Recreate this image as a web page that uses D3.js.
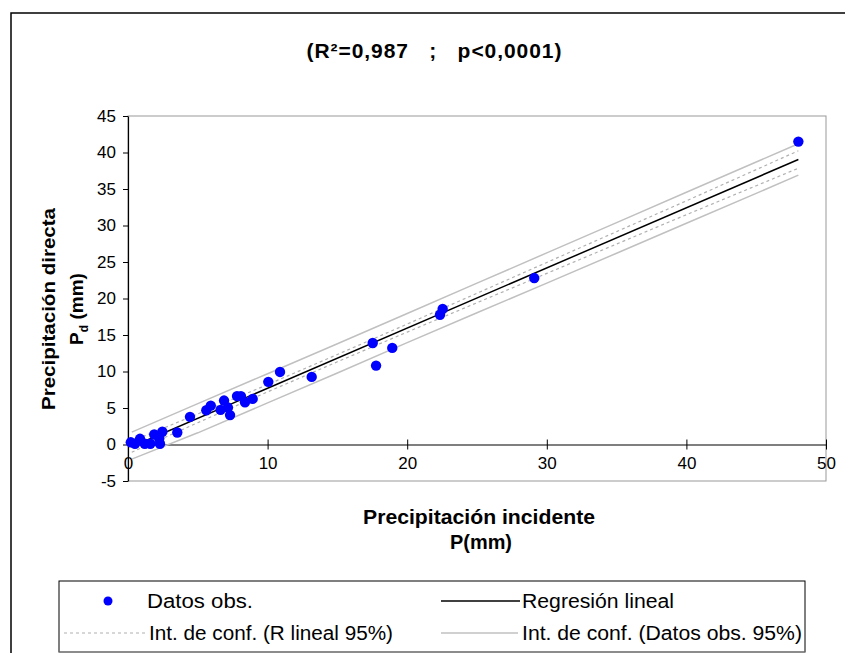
<!DOCTYPE html>
<html>
<head>
<meta charset="utf-8">
<script src="https://cdn.jsdelivr.net/npm/d3@7"></script>
<style>
  body { margin: 0; background: #fff; }
  text { font-family: "Liberation Sans", Arial, sans-serif; }
</style>
</head>
<body>
<div id="chart"></div>
<script>
// observed data (P incident, Pd direct)
const obsX = [0.2, 0.5, 0.86, 1.2, 1.6, 1.88, 2.24, 2.29, 2.46, 3.53, 4.44, 5.61, 5.93, 6.63, 6.88, 7.16, 7.31,
  7.81, 8.09, 8.38, 8.93, 10.05, 10.89, 13.16, 17.53, 17.77, 18.93, 22.35, 22.54, 29.1, 48.02];
const obsY = [0.3, 0.1, 0.78, 0.1, 0.1, 1.37, 0.82, 0.1, 1.74, 1.64, 3.79, 4.69, 5.33, 4.75, 6.02, 5.06, 4.03,
  6.63, 6.63, 5.79, 6.25, 8.58, 9.94, 9.26, 13.91, 10.81, 13.23, 17.78, 18.56, 22.8, 41.49];

// regression line end points
const regX = [0.27, 48.02];
const regY = [-0.31, 39.04];

// band samples
const bandX = [0.27, 5, 10, 15, 20, 25, 30, 35, 40, 45, 48.02];
const confUpper = [0.44, 4.19, 8.21, 12.33, 16.5, 20.72, 24.94, 29.16, 33.38, 37.65, 40.24];
const confLower = [-1.06, 2.99, 7.21, 11.33, 15.4, 19.42, 23.44, 27.46, 31.48, 35.45, 37.84];
const predUpper = [1.7, 5.6, 9.7, 13.8, 17.95, 22.1, 26.25, 30.4, 34.55, 38.7, 41.2];
const predLower = [-2.0, 1.6, 5.7, 9.8, 13.95, 18.05, 22.1, 26.2, 30.3, 34.4, 36.9];

const xTicks = [0, 10, 20, 30, 40, 50];
const yTicks = [-5, 0, 5, 10, 15, 20, 25, 30, 35, 40, 45];

const W = 845, H = 653;
const plot = {left: 128, right: 826, top: 116, bottom: 481};

const svg = d3.select('#chart').append('svg')
  .attr('width', W)
  .attr('height', H);

// outer chart frame
svg.append('path')
  .attr('d', `M11,${H} V13 H${W}`)
  .attr('fill', 'none')
  .attr('stroke', '#000')
  .attr('stroke-width', 1.5);

const x = d3.scaleLinear().domain([0, 50]).range([plot.left, plot.right]);
const y = d3.scaleLinear().domain([-5, 45]).range([plot.bottom, plot.top]);

// plot area border
svg.append('rect')
  .attr('x', plot.left).attr('y', plot.top)
  .attr('width', plot.right - plot.left).attr('height', plot.bottom - plot.top)
  .attr('fill', 'none').attr('stroke', '#999').attr('stroke-width', 1);

// y axis
const yAxis = svg.append('g')
  .attr('transform', `translate(${plot.left},0)`)
  .call(d3.axisLeft(y).tickValues(yTicks).tickSize(5).tickSizeOuter(0).tickFormat(d => String(d)));
yAxis.select('.domain').attr('stroke', '#000').attr('stroke-width', 1.2);
yAxis.selectAll('.tick line').attr('stroke', '#000');
yAxis.selectAll('.tick text')
  .attr('x', -12)
  .style('font-size', '17px')
  .style('font-family', '"Liberation Sans", Arial, sans-serif')
  .attr('fill', '#000');

// x axis, at y = 0
const xAxis = svg.append('g')
  .attr('transform', `translate(0,${y(0)})`)
  .call(d3.axisBottom(x).tickValues(xTicks).tickSize(5).tickSizeOuter(0));
xAxis.select('.domain').attr('stroke', '#000').attr('stroke-width', 1.2);
xAxis.selectAll('.tick line').attr('stroke', '#000').attr('y1', -5);
xAxis.selectAll('.tick text')
  .attr('y', 12)
  .style('font-size', '17px')
  .style('font-family', '"Liberation Sans", Arial, sans-serif')
  .attr('fill', '#000');

const line = d3.line().x(d => x(d[0])).y(d => y(d[1]));

// prediction interval (solid light gray)
[predUpper, predLower].forEach(arr => {
  svg.append('path')
    .datum(bandX.map((v, i) => [v, arr[i]]))
    .attr('d', line)
    .attr('fill', 'none')
    .attr('stroke', '#c0c0c0')
    .attr('stroke-width', 1.5);
});

// confidence interval (dashed gray)
[confUpper, confLower].forEach(arr => {
  svg.append('path')
    .datum(bandX.map((v, i) => [v, arr[i]]))
    .attr('d', line)
    .attr('fill', 'none')
    .attr('stroke', '#b0b0b0')
    .attr('stroke-width', 1.2)
    .attr('stroke-dasharray', '3,3');
});

// regression line
svg.append('path')
  .datum(regX.map((v, i) => [v, regY[i]]))
  .attr('d', line)
  .attr('fill', 'none')
  .attr('stroke', '#000')
  .attr('stroke-width', 1.5);

// observed points
svg.append('g')
  .selectAll('circle')
  .data(obsX.map((v, i) => [v, obsY[i]]))
  .join('circle')
  .attr('cx', d => x(d[0]))
  .attr('cy', d => y(d[1]))
  .attr('r', 5.2)
  .attr('fill', '#0000ff');

// title
svg.append('text')
  .attr('x', 434).attr('y', 58)
  .attr('text-anchor', 'middle')
  .style('font-size', '21px').style('font-weight', 'bold')
  .attr('xml:space', 'preserve')
  .attr('textLength', 255).attr('lengthAdjust', 'spacing')
  .text('(R²=0,987   ;   p<0,0001)');

// x label
svg.append('text')
  .attr('x', 479).attr('y', 524)
  .attr('text-anchor', 'middle')
  .style('font-size', '20px').style('font-weight', 'bold')
  .attr('textLength', 232).attr('lengthAdjust', 'spacingAndGlyphs')
  .text('Precipitación incidente');
svg.append('text')
  .attr('x', 481).attr('y', 549)
  .attr('text-anchor', 'middle')
  .style('font-size', '20px').style('font-weight', 'bold')
  .attr('textLength', 62).attr('lengthAdjust', 'spacingAndGlyphs')
  .text('P(mm)');

// y label
const yl = svg.append('g').attr('transform', 'translate(55,309) rotate(-90)');
yl.append('text')
  .attr('x', 0).attr('y', 0)
  .attr('text-anchor', 'middle')
  .style('font-size', '19px').style('font-weight', 'bold')
  .attr('textLength', 202).attr('lengthAdjust', 'spacingAndGlyphs')
  .text('Precipitación directa');
const pd = yl.append('text')
  .attr('x', 0).attr('y', 28)
  .attr('text-anchor', 'middle')
  .style('font-size', '19px').style('font-weight', 'bold');
pd.append('tspan').text('P');
pd.append('tspan').attr('dy', 5).style('font-size', '12px').text('d');
pd.append('tspan').attr('dy', -5).text(' (mm)');

// legend
const lg = svg.append('g');
lg.append('rect')
  .attr('x', 59).attr('y', 581)
  .attr('width', 746).attr('height', 71)
  .attr('fill', '#fff').attr('stroke', '#000').attr('stroke-width', 1);
lg.append('line').attr('x1', 59).attr('x2', 805).attr('y1', 652).attr('y2', 652)
  .attr('stroke', '#999');

const lgFont = '20px';
lg.append('circle').attr('cx', 108).attr('cy', 601).attr('r', 4.5).attr('fill', '#0000ff');
lg.append('text').attr('x', 147).attr('y', 608).style('font-size', lgFont)
  .attr('textLength', 106).attr('lengthAdjust', 'spacingAndGlyphs')
  .text('Datos obs.');

lg.append('line').attr('x1', 441).attr('x2', 520).attr('y1', 601).attr('y2', 601)
  .attr('stroke', '#000').attr('stroke-width', 1.5);
lg.append('text').attr('x', 522).attr('y', 608).style('font-size', lgFont)
  .attr('textLength', 152).attr('lengthAdjust', 'spacingAndGlyphs')
  .text('Regresión lineal');

lg.append('line').attr('x1', 64).attr('x2', 146).attr('y1', 633).attr('y2', 633)
  .attr('stroke', '#b0b0b0').attr('stroke-width', 1.2).attr('stroke-dasharray', '3,3');
lg.append('text').attr('x', 149).attr('y', 640).style('font-size', lgFont)
  .attr('textLength', 244).attr('lengthAdjust', 'spacingAndGlyphs')
  .text('Int. de conf. (R lineal 95%)');

lg.append('line').attr('x1', 441).attr('x2', 518).attr('y1', 633).attr('y2', 633)
  .attr('stroke', '#c0c0c0').attr('stroke-width', 1.5);
lg.append('text').attr('x', 522).attr('y', 640).style('font-size', lgFont)
  .attr('textLength', 280).attr('lengthAdjust', 'spacingAndGlyphs')
  .text('Int. de conf. (Datos obs. 95%)');
</script>
</body>
</html>
